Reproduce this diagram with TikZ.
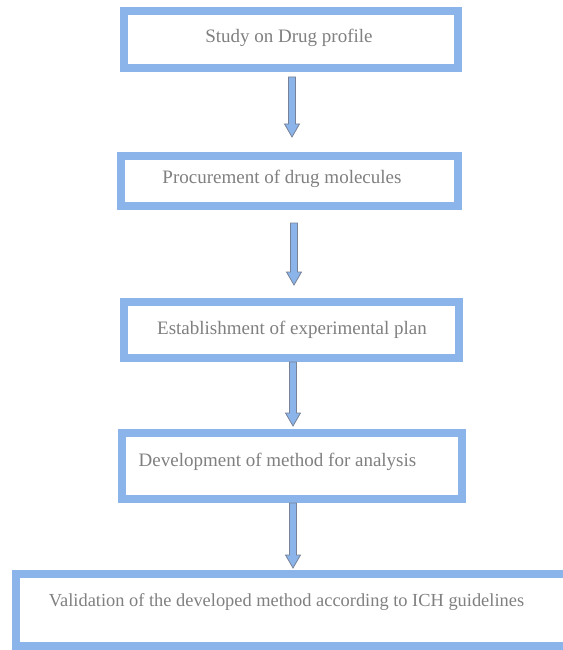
\documentclass[tikz,border=0pt]{standalone}
\usepackage{fontspec}
\setmainfont{Liberation Serif}
\usetikzlibrary{calc}
\definecolor{boxblue}{RGB}{138,180,234}
\definecolor{txtgray}{RGB}{128,128,128}
\definecolor{arrgray}{RGB}{120,130,150}
\tikzset{
  stepbox/.style={draw=boxblue, line width=8pt, rectangle, inner sep=0pt},
  steptext/.style={text=txtgray, font=\fontsize{19}{22}\selectfont, inner sep=0pt},
  flowarrow/.style={draw=arrgray, line width=0.8pt, fill=boxblue}
}
\newcommand{\fatarrow}[2]{% start coordinate, tip coordinate
  \filldraw[flowarrow] ($(#1)+(-3.5,0)$) -- ($(#1)+(3.5,0)$) -- ($(#2)+(3.5,-13)$) -- ($(#2)+(7.5,-13)$) -- (#2) -- ($(#2)+(-7.5,-13)$) -- ($(#2)+(-3.5,-13)$) -- cycle;
}
\begin{document}
\begin{tikzpicture}[x=1pt,y=-1pt]
\useasboundingbox (0,0) rectangle (562,650);
\fill[white] (0,0) rectangle (562,650);
% boxes
\node[stepbox, minimum width=334pt, minimum height=57pt] (b1) at (291,39.5) {};
\node[stepbox, minimum width=337pt, minimum height=50pt] (b2) at (289.5,181) {};
\node[stepbox, minimum width=335pt, minimum height=56pt] (b3) at (291.5,330) {};
\node[stepbox, minimum width=340pt, minimum height=66pt] (b4) at (292,466) {};
\node[stepbox, minimum width=560pt, minimum height=72pt] (b5) at (296,610) {};
% texts
\node[steptext] (t1) at (289,38) {Study on Drug profile};
\node[steptext] (t2) at (282,179) {Procurement of drug molecules};
\node[steptext] (t3) at (292,330) {Establishment of experimental plan};
\node[steptext] (t4) at (277.5,462) {Development of method for analysis};
\node[steptext, font=\fontsize{18.4}{22}\selectfont] (t5) at (286.5,602) {Validation of the developed method according to ICH guidelines};
% connector end points
\coordinate (e1) at ($(b2.north)+(2.5,-15)$);
\coordinate (s1) at ($(e1 |- b1.south)+(0,5)$);
\coordinate (e2) at ($(b3.north)+(2.5,-13)$);
\coordinate (s2) at ($(e2 |- b2.south)+(0,13)$);
\coordinate (e3) at ($(b4.north)+(1,-3)$);
\coordinate (s3) at (e3 |- b3.south);
\coordinate (e4) at ($(b5.north)+(-3,-2)$);
\coordinate (s4) at (e4 |- b4.south);
\fatarrow{s1}{e1}
\fatarrow{s2}{e2}
\fatarrow{s3}{e3}
\fatarrow{s4}{e4}
\end{tikzpicture}
\end{document}
